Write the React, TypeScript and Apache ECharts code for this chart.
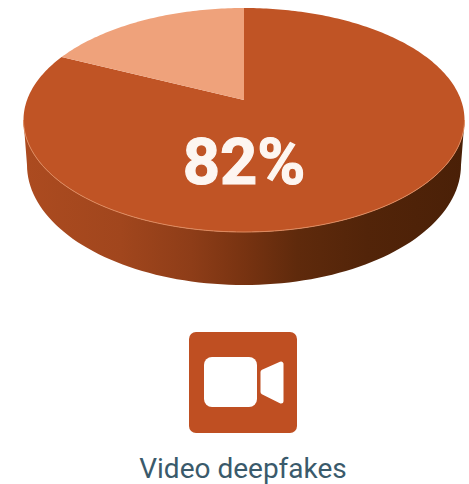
import React, { useEffect, useRef } from "react";
import * as echarts from "echarts";

const sliceNames = ["Video deepfakes", "Other"];
const sliceValues = [82, 18];
const sliceColors = ["#C05425", "#EFA27B"];
const caption = "Video deepfakes";
const headline = "82%";

// Top face of the disc, seen in perspective.
const TOP = { cx: 244, cy: 120, rx: 220.5, ry: 112 };
// Lower rim of the disc wall.
const RIM = { cx: 244, cy: 165, rx: 217, ry: 120 };
// Offset of the true disc centre inside the face ellipse.
const TILT = 0.179;

// Projects a clockwise angle on the flat disc to the face ellipse.
function project(deg: number): number[] {
  const t = (deg * Math.PI) / 180;
  const x = Math.sin(t);
  const y = Math.cos(t);
  const d = 1 + TILT * y;
  const px = (x * Math.sqrt(1 - TILT * TILT)) / d;
  const py = (y + TILT) / d;
  return [TOP.cx + px * TOP.rx, TOP.cy - py * TOP.ry];
}

function sliceShape(from: number, to: number): number[][] {
  const pts: number[][] = [[TOP.cx, TOP.cy - TILT * TOP.ry]];
  const steps = Math.max(2, Math.ceil(to - from));
  for (let i = 0; i <= steps; i++) pts.push(project(from + ((to - from) * i) / steps));
  return pts;
}

// Front half of an ellipse, from the right end round to the left end.
function frontArc(e: { cx: number; cy: number; rx: number; ry: number }): number[][] {
  const pts: number[][] = [];
  for (let a = 0; a <= 180; a += 2) {
    const t = (a * Math.PI) / 180;
    pts.push([e.cx + e.rx * Math.cos(t), e.cy + e.ry * Math.sin(t)]);
  }
  return pts;
}

function wallShape(): number[][] {
  return [...frontArc(TOP), ...frontArc(RIM).reverse()];
}

export default function App() {
  const ref = useRef<HTMLDivElement>(null);

  useEffect(() => {
    if (!ref.current) return;
    const chart = echarts.init(ref.current, undefined, { renderer: "svg" });
    const total = sliceValues.reduce((a, b) => a + b, 0);

    chart.setOption({
      animation: false,
      backgroundColor: "#ffffff",
      series: [
        {
          type: "custom",
          coordinateSystem: "none",
          silent: true,
          z: 1,
          data: [[total]],
          renderItem: () => ({
            type: "polygon",
            shape: { points: wallShape() },
            style: {
              fill: new echarts.graphic.LinearGradient(0, 0, 1, 0, [
                { offset: 0, color: "#AC4B20" },
                { offset: 0.22, color: "#A1461D" },
                { offset: 0.38, color: "#8E3D18" },
                { offset: 0.5, color: "#783311" },
                { offset: 0.62, color: "#5F2A0C" },
                { offset: 0.78, color: "#522409" },
                { offset: 1, color: "#4A2007" },
              ]),
            },
          }),
        },
        {
          type: "custom",
          coordinateSystem: "none",
          silent: true,
          z: 2,
          data: sliceValues.map((v, i) => ({ name: sliceNames[i], value: [v, i] })),
          renderItem: (_params: unknown, api: any) => {
            const i = api.value(1);
            const before = sliceValues.slice(0, i).reduce((a, b) => a + b, 0);
            const from = (before / total) * 360;
            const to = from + (api.value(0) / total) * 360;
            return {
              type: "polygon",
              shape: { points: sliceShape(from, to) },
              style: { fill: sliceColors[i] },
            };
          },
        },
        {
          // Thin highlight along the front edge of the face.
          type: "custom",
          coordinateSystem: "none",
          silent: true,
          z: 3,
          data: [[total]],
          renderItem: () => ({
            type: "polyline",
            shape: { points: frontArc(TOP) },
            style: { fill: "none", stroke: "#DE8A5F", lineWidth: 1 },
          }),
        },
      ],
      graphic: [
        {
          type: "text",
          z: 10,
          style: {
            x: 244,
            y: 162,
            text: headline,
            align: "center",
            verticalAlign: "middle",
            fill: "#FDF6F1",
            stroke: "#FDF6F1",
            lineWidth: 1.2,
            font: "bold 65px Roboto",
          },
        },
        {
          type: "rect",
          z: 10,
          shape: { x: 189, y: 332, width: 108, height: 101, r: 7 },
          style: { fill: "#BF4F22" },
        },
        {
          type: "rect",
          z: 11,
          shape: { x: 204, y: 357, width: 53, height: 50, r: 8 },
          style: { fill: "#FFFFFF" },
        },
        {
          type: "polygon",
          z: 11,
          shape: { points: [[263, 372], [281, 364], [281, 401], [263, 392]] },
          style: { fill: "#FFFFFF", stroke: "#FFFFFF", lineWidth: 5, lineJoin: "round" },
        },
        {
          type: "text",
          z: 10,
          style: {
            x: 243,
            y: 468,
            text: caption,
            align: "center",
            verticalAlign: "middle",
            fill: "#3A5A6B",
            font: "28px Roboto",
          },
        },
      ],
    });
    return () => chart.dispose();
  }, []);

  return <div ref={ref} style={{ position: "absolute", left: 0, top: 0, width: 469, height: 484 }} />;
}
